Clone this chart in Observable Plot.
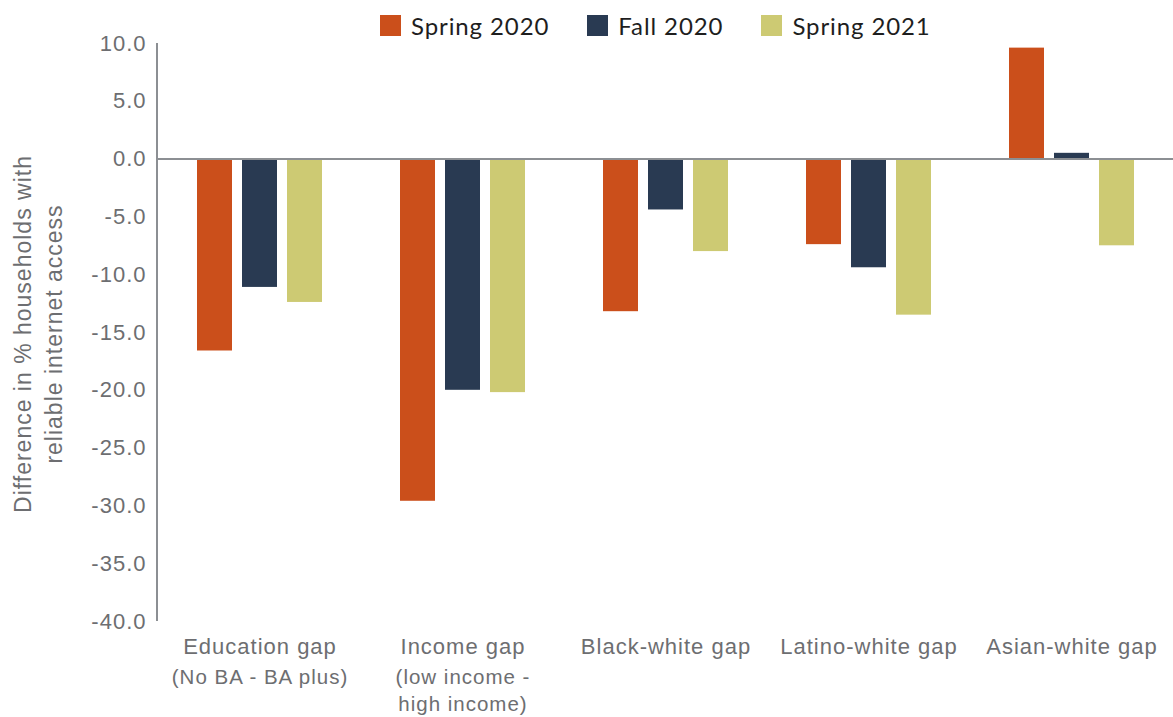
<!DOCTYPE html>
<html>
<head>
<meta charset="utf-8">
<script src="https://cdn.jsdelivr.net/npm/d3@7"></script>
<script src="https://cdn.jsdelivr.net/npm/@observablehq/plot@0.6"></script>
<style>
  html, body { margin: 0; padding: 0; background: #fff; overflow: hidden; }
  #wrap { position: relative; width: 1173px; height: 717px; }
  #legend { position: absolute; left: 380px; top: 11px; display: flex; align-items: center;
            font-family: Lato, "Open Sans", sans-serif; font-size: 24px; letter-spacing: 0.9px; color: #1e1e1e; }
  #legend .item { display: flex; align-items: center; margin-right: 38px; }
  #legend .sw { width: 21px; height: 21px; margin-right: 10px; }
  #chart text { letter-spacing: 1px; font-family: "Liberation Sans", Arial, sans-serif; }
</style>
</head>
<body>
<div id="wrap">
  <div id="chart"></div>
  <div id="legend"></div>
</div>
<script>
const categories = ["Education gap", "Income gap", "Black-white gap", "Latino-white gap", "Asian-white gap"];
const subLabels = ["(No BA - BA plus)", "(low income -\nhigh income)", "", "", ""];
const series = ["Spring 2020", "Fall 2020", "Spring 2021"];
const colors = ["#CB4F1B", "#293A52", "#CDCA73"];
const spring2020 = [-16.6, -29.6, -13.2, -7.4, 9.6];
const fall2020 = [-11.1, -20.0, -4.4, -9.4, 0.5];
const spring2021 = [-12.4, -20.2, -8.0, -13.5, -7.5];
const yTicks = [-40, -35, -30, -25, -20, -15, -10, -5, 0, 5, 10];
const yTitle = ["Difference in % households with", "reliable internet access"];

const valuesBySeries = [spring2020, fall2020, spring2021];
const data = [];
categories.forEach((c, i) => {
  series.forEach((s, j) => data.push({category: c, series: s, value: valuesBySeries[j][i]}));
});
const labelData = categories.map((c, i) => ({category: c, main: c, sub: subLabels[i]}));

const W = 1173, H = 717, mL = 157, mR = 0, mT = 43, mB = 96;
const gray = "#6d6e71";
const lineGray = "#8c8f93";

const plot = Plot.plot({
  width: W, height: H,
  marginLeft: mL, marginRight: mR, marginTop: mT, marginBottom: mB,
  style: {fontFamily: "'Liberation Sans', Arial, sans-serif", color: gray, background: "white"},
  fx: {domain: categories, padding: 0, axis: null},
  x: {domain: series, paddingInner: 0.216, paddingOuter: 0.86, axis: null},
  y: {domain: [-40, 10], axis: null},
  color: {domain: series, range: colors},
  marks: [
    Plot.barY(data, {fx: "category", x: "series", y: "value", fill: "series"}),
    Plot.ruleY([0], {stroke: lineGray, strokeWidth: 2}),
    Plot.axisY({ticks: yTicks, tickFormat: d => d.toFixed(1), tickSize: 0, tickPadding: 12,
                fontSize: 22, label: null}),
    Plot.text(labelData, {fx: "category", text: "main", frameAnchor: "bottom", dy: 32,
                          lineAnchor: "bottom", fontSize: 22, fill: gray}),
    Plot.text(labelData, {fx: "category", text: "sub", frameAnchor: "bottom", dy: 44,
                          lineAnchor: "top", lineHeight: 1.3, fontSize: 20.5, fill: gray})
  ]
});
document.getElementById("chart").appendChild(plot);

// y axis domain line and title
const ys = plot.scale("y");
const svg = d3.select(plot);
svg.append("line")
  .attr("x1", mL).attr("x2", mL)
  .attr("y1", ys.apply(10)).attr("y2", ys.apply(-40))
  .attr("stroke", lineGray).attr("stroke-width", 2);
const yMid = (ys.apply(10) + ys.apply(-40)) / 2 + 2;
const titleX = [31, 62];
yTitle.forEach((t, i) => {
  svg.append("text")
    .attr("transform", `translate(${titleX[i]},${yMid}) rotate(-90)`)
    .attr("text-anchor", "middle")
    .attr("font-size", 23)
    .attr("fill", gray)
    .text(t);
});

// legend
const lg = d3.select("#legend");
series.forEach((s, i) => {
  const it = lg.append("div").attr("class", "item");
  it.append("div").attr("class", "sw").style("background", colors[i]);
  it.append("span").text(s);
});
</script>
</body>
</html>
